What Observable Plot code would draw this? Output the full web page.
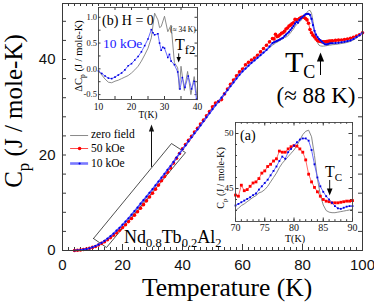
<!DOCTYPE html>
<html><head><meta charset="utf-8">
<script src="https://cdn.jsdelivr.net/npm/d3@7"></script>
<script src="https://cdn.jsdelivr.net/npm/@observablehq/plot@0.6"></script>
<style>
body{margin:0;background:#fff;}
#chart{position:relative;width:374px;height:303px;overflow:hidden;background:#fff;}
#chart svg{position:absolute;overflow:visible;}
</style></head><body><div id="chart"></div>
<script>
// ---- main curve data: temperature (K) and Cp (J / mole-K)
const temps = [4,5,6,7,8,9,10,11,12,13,14,15,16,17,18,19,20,21,22,23,24,25,26,27,28,29,30,31,32,33,34,35,36,37,38,39,40,41,42,43,44,45,46,47,48,49,50,51,52,53,54,55,56,57,58,59,60,61,62,63,64,65,66,67,68,69,
70,70.5,71,71.5,72,72.5,73,73.5,74,74.5,75,75.5,76,76.5,77,77.5,78,78.5,79,79.5,80,80.5,81,81.5,82,82.5,83,83.5,84,84.5,85,85.5,86,86.5,87,87.5,88,88.5,89,89.5,90,
91,92,93,94,95,96,97,98,99,100];
const cpZero = [0.0,0.05,0.1,0.18,0.28,0.45,0.65,0.9,1.2,1.55,
1.95,2.4,2.9,3.45,4.0,4.6,5.2,5.9,6.6,7.3,
8.05,8.8,9.55,10.3,11.1,11.9,12.7,13.5,14.3,15.1,
15.95,16.8,17.65,18.5,19.4,20.3,21.2,22.0,22.9,23.7,
24.6,25.4,26.3,27.1,28.0,28.8,29.7,30.5,31.3,32.1,
32.9,33.7,34.5,35.3,36.1,36.9,37.6,38.2,38.8,39.4,
39.9,40.4,41.0,41.5,42.0,42.5,
43.0,43.2,43.45,43.6,43.8,44.0,44.2,44.35,44.6,44.7,
44.9,45.2,45.6,46.0,46.4,46.9,47.3,47.6,47.9,48.2,
48.5,48.9,49.4,49.9,50.2,50.3,49.7,48.0,45.9,44.4,
43.5,43.0,42.85,42.8,42.8,42.85,42.9,42.95,43.0,43.05,
43.1,
43.15,43.25,43.35,43.45,43.6,43.8,44.1,44.5,45.0,45.6];
const cp50 = [0.0,0.05,0.1,0.2,0.3,0.45,0.65,0.85,1.15,1.5,
1.85,2.25,2.7,3.2,3.7,4.25,4.8,5.4,6.05,6.7,
7.4,8.1,8.85,9.6,10.4,11.2,12.0,12.85,13.7,14.6,
15.5,16.4,17.3,18.3,19.3,20.3,21.3,22.2,23.1,23.9,
24.8,25.6,26.5,27.3,28.2,29.1,30.1,30.9,31.2,31.6,
32.8,33.8,34.8,35.7,36.6,37.4,38.0,38.9,39.4,39.9,
40.3,40.9,41.6,42.3,43.0,43.7,
44.4,44.3,45.3,44.8,44.9,45.2,45.5,45.6,45.9,46.4,
46.6,47.0,47.2,47.5,47.7,48.4,48.3,48.3,48.6,48.8,
48.9,48.85,48.6,48.3,47.6,46.3,45.6,45.1,44.7,44.3,
44.0,43.85,43.8,43.7,43.7,43.7,43.75,43.8,43.85,43.85,
43.9,
44.0,44.05,44.1,44.2,44.3,44.45,44.65,44.9,45.2,45.6];
const cp10 = [0.0,0.05,0.1,0.2,0.3,0.47,0.68,0.93,1.25,1.6,
2.0,2.5,3.0,3.55,4.15,4.75,5.4,6.05,6.75,7.5,
8.25,9.0,9.8,10.55,11.3,12.1,12.85,13.65,14.45,15.25,
16.05,16.9,17.7,18.55,19.45,20.3,21.2,22.0,22.85,23.7,
24.55,25.35,26.2,27.05,27.9,28.75,29.6,30.4,31.2,32.0,
32.8,33.6,34.4,35.2,36.0,36.8,37.5,38.1,38.7,39.3,
39.8,40.35,40.9,41.45,42.0,42.7,
43.45,43.6,43.75,43.9,44.05,44.2,44.4,44.55,44.9,45.2,
45.5,45.8,46.2,46.6,47.0,47.5,47.9,47.7,48.3,48.6,
48.9,49.2,49.45,49.55,49.55,49.35,48.5,47.2,46.0,45.2,
44.7,44.3,44.0,43.7,43.4,43.2,43.15,43.25,43.35,43.4,
43.4,
43.45,43.5,43.6,43.7,43.85,44.0,44.3,44.7,45.1,45.6];

// ---- inset (b): Delta Cp
const dTzero = [10,11,12,13,14,15,16,17,18,19,20,21,22,23,24,25,26,27,28,28.5,29,30,31,32,33,34,34.5,35,36,37,38,39,40];
const dCzero = [-0.05,-0.12,-0.2,-0.26,-0.27,-0.24,-0.22,-0.19,-0.16,-0.13,-0.08,-0.02,0.05,0.15,0.27,0.4,0.6,1.08,0.95,0.8,0.82,1.02,0.72,0.85,0.12,0.02,-0.4,0.05,-0.42,-0.05,-0.5,-0.15,-0.6];
const dT10 = [10,11,12,13,14,15,16,17,18,19,20,21,22,23,24,25,26,26.5,27,28,28.5,29,29.5,30,31,31.5,32,33,34,34.7,35.4,36.2,37.2,38.2,39,39.7];
const dC10 = [-0.04,-0.09,-0.14,-0.18,-0.19,-0.16,-0.12,-0.08,-0.02,0.06,0.1,0.17,0.24,0.33,0.45,0.58,0.76,0.7,0.66,0.68,0.5,0.36,0.42,0.4,0.22,0.28,0.15,0.08,-0.06,-0.39,-0.17,-0.36,-0.14,-0.39,-0.24,-0.59];

// ---- tick labels
const xTicksMain = [0,20,40,60,80,100];
const yTicksMain = [0,20,40];
const xTicksB = [10,20,30,40];
const yTicksB = [-0.5,0,0.5,1.0];
const xTicksA = [70,75,80,85,90];
const yTicksA = [45,50];
const legendLabels = ["zero field","50 kOe","10 kOe"];

// ---- annotation geometry (data units)
const boxT = [10.33,14.67,41.0,36.33,10.33];
const boxCp = [2.51,0.63,20.5,22.4,2.51];

const rows = temps.map((t,i)=>({T:t, zero:cpZero[i], f50:cp50[i], f10:cp10[i]}));
const rowsA = rows.filter(d=>d.T>=70 && d.T<=90);
const rowsBz = dTzero.map((t,i)=>({T:t, v:dCzero[i]}));
const rowsB10 = dT10.map((t,i)=>({T:t, v:dC10[i]}));
const box = boxT.map((t,i)=>({T:t, C:boxCp[i]}));

const GRAY="#8a8a8a", RED="#ff0000", REDL="#ff4a4a", BLUE="#0000e0", BLUEL="#4d4dff";
const FR="#3a3a3a";
const SERIF="Liberation Serif, Times New Roman, serif";
const SANS="Liberation Sans, Arial, sans-serif";

function head(hw,h,dir){return {draw(ctx){ctx.moveTo(0,0);ctx.lineTo(hw,dir*h);ctx.lineTo(-hw,dir*h);ctx.closePath();}};}

function ticksX(vals,len,fh,side,extra={}){
  return Plot.tickX(vals, side==="bottom" ? {insetTop: fh-len, stroke: FR, ...extra} : {insetBottom: fh-len, stroke: FR, ...extra});
}
function ticksY(vals,len,fw,side,extra={}){
  return Plot.tickY(vals, side==="left" ? {insetRight: fw-len, stroke: FR, ...extra} : {insetLeft: fw-len, stroke: FR, ...extra});
}

function rich(svg, ox, oy, x, y, parts, o={}){
  const t = d3.select(svg).append("text")
    .attr("x", x-ox).attr("y", y-oy)
    .attr("font-family", o.font || SERIF)
    .attr("fill", o.fill || "#000")
    .attr("text-anchor", o.anchor || "start");
  if (o.rotate) t.attr("transform", `rotate(${o.rotate} ${x-ox} ${y-oy})`);
  let prev = 0;
  parts.forEach(p=>{
    const s = t.append("tspan").attr("font-size", p.size);
    const dy = (p.dy||0) - prev;
    if (dy) s.attr("dy", dy);
    prev = p.dy||0;
    s.text(p.text);
  });
}

const chart = document.getElementById("chart");

// ================= MAIN =================
const W=374,H=303,mL=62,mR=12,mT=3,mB=53;
const fw=W-mL-mR, fh=H-mT-mB;
const main = Plot.plot({
  width:W, height:H, marginLeft:mL, marginRight:mR, marginTop:mT, marginBottom:mB,
  x:{domain:[0,100]}, y:{domain:[0,51.73]},
  style:{background:"transparent", overflow:"visible"},
  marks:[
    ticksX(d3.range(0,101,2),3,fh,"bottom"), ticksX(d3.range(0,101,2),3,fh,"top"),
    ticksX(d3.range(0,101,20),6,fh,"bottom"), ticksX(d3.range(0,101,20),6,fh,"top"),
    ticksY(d3.range(0,52,4),4,fw,"left"), ticksY(d3.range(0,52,4),4,fw,"right"),
    Plot.axisX({ticks:xTicksMain, tickSize:0, tickPadding:9, fontSize:15, fontFamily:SANS, label:null, fill:"#111"}),
    Plot.axisY({ticks:yTicksMain, tickSize:0, tickPadding:7, fontSize:15, fontFamily:SANS, label:null, fill:"#111"}),
    Plot.line(box,{x:"T",y:"C",stroke:"#222",strokeWidth:0.8}),
    Plot.line(rows,{x:"T",y:"zero",stroke:GRAY,strokeWidth:1}),
    Plot.line(rows,{x:"T",y:"f50",stroke:REDL,strokeWidth:1}),
    Plot.dot(rows,{x:"T",y:"f50",r:1.8,fill:RED,stroke:"none"}),
    Plot.line(rows,{x:"T",y:"f10",stroke:BLUEL,strokeWidth:1.6}),
    Plot.dot(rows,{x:"T",y:"f10",r:1.1,fill:BLUE,stroke:"none"}),
    // arrow from box to inset (b)
    Plot.ruleX([29.67],{y1:17.4,y2:25.2,stroke:"#111",strokeWidth:1}),
    Plot.dot([{T:29.67,C:26.39}],{x:"T",y:"C",r:2,symbol:head(2.6,7,1),fill:"#111",stroke:"none"}),
    // Tc arrow
    Plot.ruleX([86],{y1:36.65,y2:40.2,stroke:"#000",strokeWidth:1}),
    Plot.dot([{T:86,C:41.47}],{x:"T",y:"C",r:2,symbol:head(3.6,9,1),fill:"#000",stroke:"none"}),
    // legend swatches
    Plot.ruleY([24.08],{x1:2.7,x2:8.7,stroke:GRAY,strokeWidth:1}),
    Plot.ruleY([21.36],{x1:2.7,x2:8.7,stroke:REDL,strokeWidth:1}),
    Plot.dot([{T:5.7,C:21.36}],{x:"T",y:"C",r:1.8,fill:RED,stroke:"none"}),
    Plot.ruleY([18.22],{x1:2.7,x2:8.7,stroke:"#7a7aff",strokeWidth:2.6}),
    Plot.dot([{T:5.7,C:18.22}],{x:"T",y:"C",r:1.1,fill:BLUE,stroke:"none"}),
    Plot.frame({stroke:FR, strokeWidth:1})
  ]
});
main.style.left="0px"; main.style.top="0px";
chart.append(main);
rich(main,0,0,22,111,[{text:"C",size:25},{text:"p",size:17,dy:7},{text:" (J / mole-K)",size:25,dy:0}],{rotate:-90,anchor:"middle"});
rich(main,0,0,227,296,[{text:"Temperature (K)",size:25.5}],{anchor:"middle"});
rich(main,0,0,285,72,[{text:"T",size:30},{text:"C",size:18,dy:6}]);
rich(main,0,0,316,103,[{text:"(\u2248 88 K)",size:23}],{anchor:"middle"});
rich(main,0,0,91,138,[{text:legendLabels[0],size:11.5}]);
rich(main,0,0,91,152,[{text:legendLabels[1],size:11.5}]);
rich(main,0,0,91,167,[{text:legendLabels[2],size:11.5}]);
rich(main,0,0,124,243,[{text:"Nd",size:18},{text:"0.8",size:12.5,dy:4},{text:"Tb",size:18,dy:0},{text:"0.2",size:12.5,dy:4},{text:"Al",size:18,dy:0},{text:"2",size:12.5,dy:4}]);

// ================= INSET (b) =================
const bx=66, by=3, bW=137, bH=119, bmL=32, bmR=6, bmT=4, bmB=23;
const bfw=bW-bmL-bmR, bfh=bH-bmT-bmB;
const fmt1 = d => (d<0?"-":"") + Math.abs(d).toFixed(1);
const insB = Plot.plot({
  width:bW, height:bH, marginLeft:bmL, marginRight:bmR, marginTop:bmT, marginBottom:bmB,
  x:{domain:[10,40]}, y:{domain:[-0.595,1.19]},
  style:{background:"transparent", overflow:"visible"},
  marks:[
    Plot.frame({fill:"white", stroke:"none"}),
    ticksX(d3.range(10,41,5),3,bfh,"bottom"), ticksX(d3.range(10,41,5),3,bfh,"top"),
    ticksY(d3.range(-0.5,1.01,0.25),2.5,bfw,"left"), ticksY(d3.range(-0.5,1.01,0.25),2.5,bfw,"right"),
    Plot.axisX({ticks:xTicksB, tickSize:0, tickPadding:3.5, fontSize:9.5, fontFamily:SERIF, label:null, fill:"#111"}),
    Plot.axisY({ticks:yTicksB, tickSize:0, tickPadding:1.5, fontSize:8.5, fontFamily:SERIF, label:null, tickFormat:fmt1, fill:"#111"}),
    Plot.line(rowsBz,{x:"T",y:"v",stroke:"#7f7f7f",strokeWidth:0.9}),
    Plot.line(rowsB10,{x:"T",y:"v",stroke:"#5a5aff",strokeWidth:0.9}),
    Plot.dot(rowsB10,{x:"T",y:"v",r:0.9,fill:BLUE,stroke:"none",symbol:"square"}),
    Plot.ruleX([34.3],{y1:0.29,y2:0.2,stroke:"#000",strokeWidth:0.9}),
    Plot.dot([{T:34.3,v:0.122}],{x:"T",y:"v",r:2,symbol:head(2.2,5.5,-1),fill:"#000",stroke:"none"}),
    Plot.frame({stroke:"#444", strokeWidth:0.9})
  ]
});
insB.style.left=bx+"px"; insB.style.top=by+"px";
chart.append(insB);
rich(insB,bx,by,102,25,[{text:"(b) H = 0",size:14}]);
rich(insB,bx,by,103,48,[{text:"10 kOe",size:13.5}],{fill:"#1a1aff"});
rich(insB,bx,by,170,32,[{text:"(\u2248 34 K)",size:7.5}]);
rich(insB,bx,by,175,50,[{text:"T",size:16},{text:"f2",size:13,dy:4}]);
rich(insB,bx,by,82,56,[{text:"\u0394C",size:10.5},{text:"p",size:7.5,dy:3},{text:" (J / mole-K)",size:10.5,dy:0}],{rotate:-90,anchor:"middle"});
rich(insB,bx,by,148,118,[{text:"T(K)",size:9.5}],{anchor:"middle"});

// ================= INSET (a) =================
const ax=205, ay=115, aW=153, aH=131, amL=30, amR=6, amT=7, amB=25;
const afw=aW-amL-amR, afh=aH-amT-amB;
const insA = Plot.plot({
  width:aW, height:aH, marginLeft:amL, marginRight:amR, marginTop:amT, marginBottom:amB,
  x:{domain:[70,90]}, y:{domain:[42.0,51.0]},
  style:{background:"transparent", overflow:"visible"},
  marks:[
    Plot.frame({fill:"white", stroke:"none"}),
    ticksX(d3.range(70,91,1),1.8,afh,"bottom"), ticksX(d3.range(70,91,1),1.8,afh,"top"),
    ticksX(d3.range(70,91,5),3.5,afh,"bottom"), ticksX(d3.range(70,91,5),3.5,afh,"top"),
    ticksY(d3.range(43,51,1),2,afw,"left"), ticksY(d3.range(43,51,1),2,afw,"right"),
    ticksY(yTicksA,3.5,afw,"left"), ticksY(yTicksA,3.5,afw,"right"),
    Plot.axisX({ticks:xTicksA, tickSize:0, tickPadding:2, fontSize:10, fontFamily:SERIF, label:null, fill:"#111"}),
    Plot.axisY({ticks:yTicksA, tickSize:0, tickPadding:2, fontSize:9, fontFamily:SERIF, label:null, fill:"#111"}),
    Plot.line(rowsA,{x:"T",y:"zero",stroke:"#7a7a7a",strokeWidth:0.9}),
    Plot.line(rowsA,{x:"T",y:"f50",stroke:"#ff5a5a",strokeWidth:0.9}),
    Plot.dot(rowsA,{x:"T",y:"f50",r:1.6,fill:RED,stroke:"none",symbol:"square"}),
    Plot.line(rowsA,{x:"T",y:"f10",stroke:"#5a5aff",strokeWidth:0.9}),
    Plot.dot(rowsA,{x:"T",y:"f10",r:1.05,fill:BLUE,stroke:"none",symbol:"square"}),
    Plot.ruleX([86.1],{y1:45.73,y2:44.9,stroke:"#000",strokeWidth:0.9}),
    Plot.dot([{T:86.1,C:44.36}],{x:"T",y:"C",r:2,symbol:head(2.8,7,-1),fill:"#000",stroke:"none"}),
    Plot.frame({stroke:"#444", strokeWidth:0.9})
  ]
});
insA.style.left=ax+"px"; insA.style.top=ay+"px";
chart.append(insA);
rich(insA,ax,ay,240,140,[{text:"(a)",size:14}]);
rich(insA,ax,ay,325,177,[{text:"T",size:16},{text:"C",size:11,dy:4}]);
rich(insA,ax,ay,224,178,[{text:"C",size:10},{text:"p",size:7,dy:3},{text:" (J / mole-K)",size:10,dy:0}],{rotate:-90,anchor:"middle"});
rich(insA,ax,ay,295,242,[{text:"T(K)",size:10}],{anchor:"middle"});
</script></body></html>
